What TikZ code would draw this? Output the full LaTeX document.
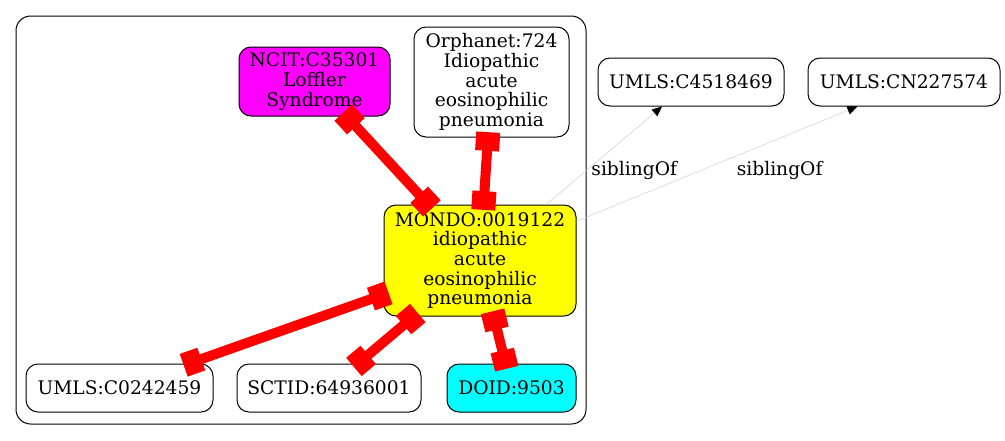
\documentclass[tikz,border=0pt]{standalone}
\usepackage{fontspec}
\setmainfont{DejaVu Serif}
\usetikzlibrary{arrows.meta}

\definecolor{ncitfill}{RGB}{255,0,255}
\definecolor{mondofill}{RGB}{255,255,0}
\definecolor{doidfill}{RGB}{0,255,255}
\definecolor{xrefred}{RGB}{255,0,0}

\tikzset{
    term/.style={draw=black, line width=0.75pt, rounded corners=9pt, align=center,
        inner sep=0pt, font=\fontsize{14}{14.8}\selectfont},
    xref/.style={draw=xrefred, line width=7.5pt,
        {Square[length=14pt,width=18pt]}-{Square[length=14pt,width=18pt]},
        shorten <=-4pt, shorten >=-4pt},
    sibling/.style={draw=black!18, line width=0.4pt,
        -{Triangle[length=7.5pt,width=6.5pt,color=black]}},
    edgelabel/.style={font=\fontsize{14}{14.8}\selectfont, anchor=west}
}

\begin{document}
\begin{tikzpicture}[x=0.75pt, y=-0.75pt]
    \useasboundingbox (0,0) rectangle (1005,440);

    % Cluster
    \draw[line width=0.75pt, rounded corners=11pt] (16,16) rectangle (586,424);

    % Terms inside the cluster
    \node[term, fill=ncitfill, minimum width=113.25pt, minimum height=51.75pt] (ncit) at (314.5,81.5) {NCIT:C35301\\Loffler\\Syndrome};
    \node[term, fill=white, minimum width=116.25pt, minimum height=82.5pt] (orpha) at (491.5,82) {Orphanet:724\\Idiopathic\\acute\\eosinophilic\\pneumonia};
    \node[term, fill=mondofill, minimum width=144pt, minimum height=83.25pt] (mondo) at (480,260.5) {MONDO:0019122\\idiopathic\\acute\\eosinophilic\\pneumonia};
    \node[term, fill=white, minimum width=140.25pt, minimum height=36pt] (umlsA) at (119.5,388) {UMLS:C0242459};
    \node[term, fill=white, minimum width=138pt, minimum height=36pt] (sctid) at (329,388) {SCTID:64936001};
    \node[term, fill=doidfill, minimum width=96.75pt, minimum height=36pt] (doid) at (511.5,388) {DOID:9503};

    % Terms outside
    \node[term, fill=white, minimum width=139.5pt, minimum height=36pt] (umlsB) at (691,82) {UMLS:C4518469};
    \node[term, fill=white, minimum width=144pt, minimum height=36pt] (umlsC) at (904,82) {UMLS:CN227574};
    \coordinate (umlsCin) at ([xshift=-35pt]umlsC.south);

    % Cross references
    \draw[xref] (ncit) -- (mondo);
    \draw[xref] (orpha) -- (mondo);
    \draw[xref] (mondo) -- (umlsA);
    \draw[xref] (mondo) -- (sctid);
    \draw[xref] (mondo) -- (doid);

    % Siblings
    \draw[sibling] (mondo) -- (umlsB) node[edgelabel, pos=0.35, xshift=0pt] (sibB) {siblingOf};
    \draw[sibling] (mondo) -- (umlsCin) node[edgelabel, pos=0.44, xshift=24pt] (sibC) {siblingOf};
\end{tikzpicture}
\end{document}
